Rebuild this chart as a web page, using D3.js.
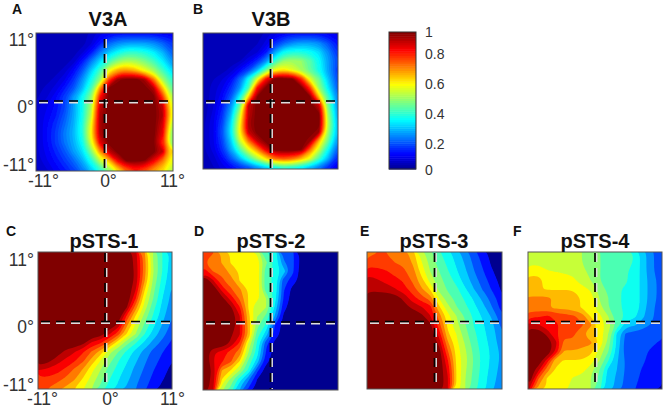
<!DOCTYPE html>
<html>
<head>
<meta charset="utf-8">
<script src="https://cdn.jsdelivr.net/npm/d3@7"></script>
<style>
  html, body { margin: 0; padding: 0; background: #fff; }
  svg { display: block; }
  text { font-family: "Liberation Sans", Arial, sans-serif; }
</style>
</head>
<body>
<div id="chart"></div>
<script>
// response maps, percent of max, rows run from +11 deg down to -11 deg
var valuesA = [
  [3,3,3,3,3,3,5,8,10,12,12,12,12,12,10,10],
  [3,3,3,3,3,3,6,12,20,24,26,26,26,24,20,15],
  [3,3,3,3,3,6,12,22,30,36,40,40,38,34,28,20],
  [3,3,3,3,5,12,22,32,42,50,54,52,48,42,34,25],
  [3,3,3,5,10,18,30,42,60,70,72,68,60,52,42,32],
  [3,3,5,8,14,24,36,50,80,97,100,100,95,75,52,40],
  [3,5,7,12,18,28,42,72,100,100,100,100,100,94,68,46],
  [4,6,10,16,25,36,50,85,100,100,100,100,100,100,82,55],
  [6,8,11,16,25,36,52,92,100,100,100,100,100,100,92,60],
  [6,9,12,18,26,36,55,95,100,100,100,100,100,100,94,62],
  [6,10,14,20,27,38,60,95,100,100,100,100,100,100,90,56],
  [6,10,15,22,28,38,62,95,100,100,100,100,100,100,88,50],
  [6,10,15,21,27,36,58,88,100,100,100,100,100,98,82,50],
  [6,9,13,18,25,32,48,72,92,100,100,100,100,100,92,65],
  [5,8,11,15,20,27,38,55,68,88,100,100,98,88,75,60],
  [4,6,9,12,16,22,30,40,50,66,78,84,80,72,65,55]
];
var valuesB = [
  [3,3,3,3,3,3,3,5,8,10,12,12,12,12,10,8],
  [3,3,3,3,3,3,4,7,14,20,24,26,26,24,18,12],
  [3,3,3,3,3,4,6,12,26,36,38,38,36,32,24,15],
  [3,3,3,3,4,8,14,24,40,50,52,50,44,36,26,18],
  [3,3,3,5,10,16,28,46,60,64,58,52,44,36,26,16],
  [3,4,6,10,20,36,58,85,100,100,98,82,58,46,30,18],
  [3,5,8,14,24,42,85,100,100,100,100,100,80,50,34,20],
  [3,5,10,18,35,65,98,100,100,100,100,100,98,66,42,24],
  [3,6,12,24,45,92,100,100,100,100,100,100,100,92,48,26],
  [3,7,14,28,55,92,100,100,100,100,100,100,100,100,52,28],
  [4,8,16,32,60,95,100,100,100,100,100,100,100,100,55,30],
  [4,8,18,34,62,92,100,100,100,100,100,100,100,96,52,30],
  [4,8,16,30,55,75,92,100,100,100,100,100,96,68,46,26],
  [4,7,14,26,42,58,72,88,100,100,100,98,75,55,36,20],
  [3,5,10,18,28,40,52,64,75,78,75,68,58,42,28,14],
  [3,4,7,10,14,18,24,30,36,40,38,34,28,22,14,8]
];
var valuesC = [
  [100,100,100,100,100,100,100,100,100,100,100,90,70,50,38,30],
  [100,100,100,100,100,100,100,100,100,100,100,91,72,50,38,29],
  [100,100,100,100,100,100,100,100,100,100,100,92,72,51,38,28],
  [100,100,100,100,100,100,100,100,100,100,100,92,70,49,36,27],
  [100,100,100,100,100,100,100,100,100,100,100,88,64,46,34,25],
  [100,100,100,100,100,100,100,100,100,100,100,82,58,44,32,24],
  [100,100,100,100,100,100,100,100,100,100,94,72,54,40,30,22],
  [100,100,100,100,100,100,100,100,100,100,80,62,48,37,28,20],
  [100,100,100,100,100,100,100,100,100,92,70,55,43,33,25,18],
  [100,100,100,100,100,100,100,98,88,78,62,50,38,29,22,15],
  [100,100,100,100,100,96,86,82,72,58,46,38,30,23,17,12],
  [100,100,98,92,88,82,74,66,52,44,36,29,23,17,13,9],
  [100,96,90,86,82,76,66,56,46,38,32,26,20,15,11,7],
  [88,86,84,80,74,68,58,50,41,35,29,23,18,13,9,5],
  [80,80,78,74,70,62,54,46,38,32,27,21,16,11,7,4],
  [75,75,72,68,63,57,50,42,35,30,24,19,14,9,5,3]
];
var valuesD = [
  [75,75,68,62,62,62,55,38,36,16,14,4,3,3,3,3],
  [75,74,68,62,62,62,60,45,36,20,14,4,3,3,3,3],
  [85,75,74,66,62,62,60,40,36,28,14,3,3,3,3,3],
  [100,88,76,72,62,62,60,40,36,15,10,3,3,3,3,3],
  [100,100,85,76,70,62,60,40,36,13,4,3,3,3,3,3],
  [100,100,96,85,74,62,58,50,34,12,3,3,3,3,3,3],
  [100,100,100,95,82,62,50,50,30,8,3,3,3,3,3,3],
  [100,100,100,100,88,65,50,42,24,5,3,3,3,3,3,3],
  [100,100,100,100,88,66,46,36,12,3,3,3,3,3,3,3],
  [100,100,100,95,88,68,40,28,10,3,3,3,3,3,3,3],
  [100,100,100,92,80,55,36,14,4,3,3,3,3,3,3,3],
  [100,88,85,78,72,50,34,12,3,3,3,3,3,3,3,3],
  [100,88,82,76,62,42,28,8,3,3,3,3,3,3,3,3],
  [100,92,68,62,50,36,14,3,3,3,3,3,3,3,3,3],
  [100,90,62,48,34,20,6,3,3,3,3,3,3,3,3,3],
  [100,88,52,42,25,12,3,3,3,3,3,3,3,3,3,3]
];
var valuesE = [
  [74,75,75,74,72,66,53,46,39,34,28,22,15,9,4,3],
  [77,77,76,75,74,68,57,48,41,36,30,24,17,11,5,3],
  [85,84,82,78,76,72,60,50,44,38,32,26,19,13,7,3],
  [90,88,86,84,80,74,65,54,46,41,35,28,22,15,10,4],
  [92,91,90,88,84,78,70,62,48,43,39,32,25,18,12,6],
  [100,100,100,98,92,84,78,72,56,46,42,36,30,23,16,9],
  [100,100,100,100,97,92,88,84,64,52,44,39,33,27,19,11],
  [100,100,100,100,100,100,96,88,72,59,50,43,36,30,24,15],
  [100,100,100,100,100,100,100,96,78,61,52,44,37,32,27,18],
  [100,100,100,100,100,100,100,100,85,64,56,46,39,33,28,21],
  [100,100,100,100,100,100,100,100,92,70,58,49,40,34,29,22],
  [100,100,100,100,100,100,100,100,98,76,60,51,42,35,30,24],
  [100,100,100,100,100,100,100,100,100,82,61,52,43,35,30,24],
  [100,100,100,100,100,100,100,100,100,86,62,51,42,35,29,23],
  [100,100,100,100,100,100,100,100,100,88,62,50,41,34,28,22],
  [100,100,100,100,100,100,100,100,100,88,62,50,40,34,27,20]
];
var valuesF = [
  [52,52,52,52,52,52,50,46,44,42,42,41,37,28,20,15],
  [54,54,52,52,52,52,50,47,44,42,42,40,37,28,20,15],
  [62,62,57,56,55,54,52,48,44,42,40,38,36,28,20,15],
  [63,63,62,60,60,58,52,50,44,40,39,38,36,28,22,16],
  [63,63,62,62,62,62,60,55,48,42,38,37,36,28,22,16],
  [70,70,70,68,68,66,62,60,50,44,38,37,36,28,22,16],
  [70,70,70,66,66,64,62,60,52,44,38,37,36,28,20,16],
  [80,80,82,80,78,76,72,62,58,50,40,37,33,26,20,15],
  [90,88,84,82,80,78,76,70,60,54,42,28,26,22,18,15],
  [100,100,92,82,78,76,70,64,60,50,30,18,16,15,14,14],
  [100,100,100,90,72,74,72,70,62,48,30,16,15,14,13,12],
  [100,100,100,86,68,68,66,64,54,44,28,16,14,13,12,11],
  [100,100,85,64,62,62,62,60,50,38,26,18,14,13,11,10],
  [100,90,72,62,62,62,60,52,44,30,25,18,14,12,10,9],
  [100,76,62,62,62,55,52,50,42,28,24,17,14,11,9,8],
  [88,68,62,62,60,52,52,50,40,27,24,16,13,10,8,6]
];

var axisTicks = [-11, 0, 11];
var colorbarTicks = [0, 0.2, 0.4, 0.6, 0.8, 1];

var svg = d3.select("#chart")
  .append("svg")
  .attr("width", 666)
  .attr("height", 416);

var defs = svg.append("defs");

// slight softening, the source figure is a resampled jpeg
defs.append("filter")
  .attr("id", "soft")
  .append("feGaussianBlur")
  .attr("stdDeviation", 0.5);

// jet colormap
var jet = d3.scaleLinear()
  .domain([0, 0.11, 0.36, 0.62, 0.87, 1])
  .range(["#00008f", "#0000ff", "#00ffff", "#ffff00", "#ff0000", "#800000"])
  .clamp(true);

function drawPanel(values, box, step, name, letter) {
  var n = values.length;
  // grid runs a little past the frame so the rounded corners of the rings get clipped off
  var xGrid = d3.scaleLinear().domain([0, n]).range([box.x0 - 3, box.x1 + 3]);
  var yGrid = d3.scaleLinear().domain([0, n]).range([box.y0 - 3, box.y1 + 3]);
  var ring = d3.line()
    .x(p => xGrid(p[0]))
    .y(p => yGrid(p[1]))
    .curve(d3.curveBasisClosed);

  var levels = d3.range(step, 1 - step / 2, step);
  var contours = d3.contours()
    .size([n, n])
    .thresholds(levels)(values.flat().map(d => d / 100));

  var clipId = "clip" + letter.text;
  defs.append("clipPath")
    .attr("id", clipId)
    .append("rect")
    .attr("x", box.x0)
    .attr("y", box.y0)
    .attr("width", box.x1 - box.x0)
    .attr("height", box.y1 - box.y0);

  var group = svg.append("g")
    .attr("filter", "url(#soft)")
    .append("g")
    .attr("clip-path", `url(#${clipId})`);
  group.append("rect")
    .attr("x", box.x0)
    .attr("y", box.y0)
    .attr("width", box.x1 - box.x0)
    .attr("height", box.y1 - box.y0)
    .attr("fill", jet(0));
  group.selectAll("path")
    .data(contours)
    .enter()
    .append("path")
    .attr("d", d => d.coordinates.flatMap(poly => poly.map(r => ring(r.slice(0, -1)))).join(""))
    .attr("fill", d => jet(d.value + step));

  // frame
  svg.append("rect")
    .attr("x", box.x0)
    .attr("y", box.y0)
    .attr("width", box.x1 - box.x0)
    .attr("height", box.y1 - box.y0)
    .attr("fill", "none")
    .attr("stroke", "#555")
    .attr("stroke-width", 1);

  // crosshair, white dashes sit just under the black ones
  var cx = (box.x0 + box.x1) / 2;
  var cy = (box.y0 + box.y1) / 2 + box.shift;
  [["#ddd", 1.6], ["#000", 0]].forEach(function(s) {
    svg.append("line")
      .attr("x1", box.x0 + 3).attr("x2", box.x1)
      .attr("y1", cy + s[1]).attr("y2", cy + s[1])
      .attr("stroke", s[0]).attr("stroke-width", 1.7)
      .attr("stroke-dasharray", "9 6");
    svg.append("line")
      .attr("x1", cx + s[1]).attr("x2", cx + s[1])
      .attr("y1", box.y0 + box.lineTop).attr("y2", box.y1 - 1)
      .attr("stroke", s[0]).attr("stroke-width", 1.7)
      .attr("stroke-dasharray", "9 6");
  });

  svg.append("text")
    .attr("x", name.x)
    .attr("y", name.y)
    .attr("text-anchor", "middle")
    .attr("font-size", 20)
    .attr("font-weight", "bold")
    .attr("fill", "#111")
    .text(name.text);

  svg.append("text")
    .attr("x", letter.x)
    .attr("y", letter.y)
    .attr("font-size", 14)
    .attr("font-weight", "bold")
    .attr("fill", "#111")
    .text(letter.text);
}

function drawAxes(xRange, yRange, xPos, yPos) {
  // the labels are not evenly spaced in the figure, so each tick gets its own stop
  var xScale = d3.scaleLinear().domain(axisTicks).range(xRange);
  var yScale = d3.scaleLinear().domain(axisTicks).range(yRange);
  var format = d => d + "°";

  var bottom = svg.append("g")
    .attr("transform", `translate(0, ${xPos})`)
    .call(d3.axisBottom(xScale).tickValues(axisTicks).tickFormat(format).tickSize(0).tickPadding(0));
  var left = svg.append("g")
    .attr("transform", `translate(${yPos}, 0)`)
    .call(d3.axisLeft(yScale).tickValues(axisTicks).tickFormat(format).tickSize(0).tickPadding(0));

  [bottom, left].forEach(function(a) {
    a.select(".domain").remove();
    a.selectAll("text")
      .attr("font-size", 17.5)
      .attr("font-family", "Liberation Sans")
      .attr("fill", "#333");
  });
}

drawPanel(valuesA, {x0: 36, x1: 173, y0: 33, y1: 171, shift: -1, lineTop: 6}, 1 / 48, {text: "V3A", x: 108, y: 26}, {text: "A", x: 12, y: 14});
drawPanel(valuesB, {x0: 203, x1: 338, y0: 33, y1: 169, shift: 0, lineTop: 6}, 1 / 48, {text: "V3B", x: 271, y: 26}, {text: "B", x: 193, y: 14});
drawPanel(valuesC, {x0: 38, x1: 172, y0: 252, y1: 389, shift: 1, lineTop: 1}, 1 / 16, {text: "pSTS-1", x: 104, y: 248}, {text: "C", x: 6, y: 236});
drawPanel(valuesD, {x0: 203, x1: 338, y0: 252, y1: 390, shift: 1, lineTop: 1}, 1 / 16, {text: "pSTS-2", x: 271, y: 248}, {text: "D", x: 194, y: 236});
drawPanel(valuesE, {x0: 367, x1: 502, y0: 252, y1: 389, shift: 1, lineTop: 1}, 1 / 16, {text: "pSTS-3", x: 434, y: 248}, {text: "E", x: 360, y: 236});
drawPanel(valuesF, {x0: 528, x1: 662, y0: 252, y1: 389, shift: 1, lineTop: 1}, 1 / 16, {text: "pSTS-4", x: 595, y: 248}, {text: "F", x: 513, y: 236});

drawAxes([43, 108, 172], [165, 107, 40], 175, 34);
drawAxes([42, 110, 172], [385, 327, 260], 393, 34);

// colorbar
var barSteps = d3.range(64);
var barY = d3.scaleBand().domain(barSteps).range([169, 32]);
svg.append("g").selectAll("rect")
  .data(barSteps)
  .enter()
  .append("rect")
  .attr("x", 389)
  .attr("y", d => barY(d))
  .attr("width", 27)
  .attr("height", barY.bandwidth() + 0.5)
  .attr("fill", d => jet((d + 0.5) / 64));
svg.append("rect")
  .attr("x", 389).attr("y", 32)
  .attr("width", 27).attr("height", 137)
  .attr("fill", "none")
  .attr("stroke", "#333");

// tick labels in the figure are not quite evenly spaced
var barTickY = d3.scaleLinear().domain(colorbarTicks).range([170, 144, 114, 84, 54, 32]);
var barAxis = svg.append("g")
  .attr("transform", "translate(425, 0)")
  .call(d3.axisRight(barTickY).tickValues(colorbarTicks).tickFormat(d => d).tickSize(0).tickPadding(0));
barAxis.select(".domain").remove();
barAxis.selectAll("text")
  .attr("font-size", 14)
  .attr("font-family", "Liberation Sans")
  .attr("fill", "#333");
</script>
</body>
</html>
